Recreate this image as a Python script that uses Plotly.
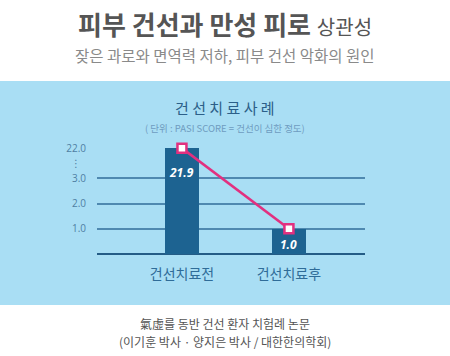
import plotly.graph_objects as go

# ---- data ----
categories = ["건선치료전", "건선치료후"]
pasi_values = [21.9, 1.0]
tick_values = [1.0, 2.0, 3.0, 22.0]
tick_labels = ["1.0", "2.0", "3.0", "22.0"]
value_labels = ["21.9", "1.0"]

# broken axis: linear 0..3, compressed above 3
BREAK = 3.0
UPPER_SCALE = 0.0637


def to_axis(v):
    return v if v <= BREAK else BREAK + (v - BREAK) * UPPER_SCALE


bar_pos = [to_axis(v) for v in pasi_values]
tick_pos = [to_axis(v) for v in tick_values]

W, H = 450, 356
L, R, T, B = 97, 365, 148, 254


def px_x(px):
    return (px - L) / (R - L)


def px_y(py):
    return (B - py) / (B - T)


fig = go.Figure()
fig.add_trace(go.Bar(
    x=categories, y=bar_pos, width=0.318,
    marker=dict(color="#1d6391", line=dict(width=0)),
    hoverinfo="skip",
))
fig.add_trace(go.Scatter(
    x=categories, y=bar_pos, mode="lines+markers",
    line=dict(color="#e2307f", width=2.6),
    marker=dict(symbol="square", size=9, color="white",
                line=dict(color="#e2307f", width=2.5)),
    cliponaxis=False, hoverinfo="skip",
))

annotations = []
# value labels inside bars
shifts = [-14, -5]
for c, p, lab, s in zip(categories, bar_pos, value_labels, shifts):
    annotations.append(dict(
        x=c, y=p, xref="x", yref="y", text=f"<i><b>{lab}</b></i>",
        showarrow=False, yanchor="top", xanchor="center", yshift=s,
        font=dict(family="Open Sans", size=12, color="white")))

CX = 0.5 * (px_x(0) + px_x(450))


def note(text, py, size, color, family="Noto Sans CJK KR", x=None):
    return dict(x=CX if x is None else x, y=px_y(py), xref="paper", yref="paper",
                text=text, showarrow=False, xanchor="center", yanchor="middle",
                font=dict(family=family, size=size, color=color))


annotations += [
    note("⋮", 163, 10, "#4f7fa3", family="DejaVu Sans", x=px_x(76)),
    note("<b>피부 건선과 만성 피로</b> <span style='font-size:20px'>상관성</span>",
         23, 26, "#555555"),
    note("잦은 과로와 면역력 저하, 피부 건선 악화의 원인", 55, 15.5, "#8a8a8a"),
    note("건 선 치 료 사 례", 107, 15, "#2c5f88"),
    note("( 단위 : PASI SCORE = 건선이 심한 정도)", 128, 9.5, "#6f9cc0"),
    note("氣虛를 동반 건선 환자 치험례 논문", 323, 12, "#555555"),
    note("(이기훈 박사 · 양지은 박사 / 대한한의학회)", 341, 12, "#555555"),
]

shapes = [dict(type="rect", xref="paper", yref="paper", layer="below",
               x0=px_x(0), x1=px_x(450), y0=px_y(305), y1=px_y(81),
               fillcolor="#a9def4", line=dict(width=0))]

fig.update_layout(
    width=W, height=H,
    margin=dict(l=L, r=W - R, t=T, b=H - B, pad=0, autoexpand=False),
    paper_bgcolor="white", plot_bgcolor="rgba(0,0,0,0)",
    showlegend=False, bargap=0,
    shapes=shapes, annotations=annotations,
    xaxis=dict(range=[-0.794, 1.711], showgrid=False, zeroline=False,
               showline=False, ticks="", fixedrange=True, ticklabelstandoff=10,
               tickfont=dict(family="Noto Sans CJK KR", size=14, color="#2f6c98")),
    yaxis=dict(range=[0, to_axis(22.0)], tickvals=tick_pos, ticktext=tick_labels,
               showgrid=True, gridcolor="#4f89b0", gridwidth=1.5,
               zeroline=True, zerolinecolor="#245c86", zerolinewidth=2,
               showline=False, ticks="", ticklabelstandoff=10,
               tickfont=dict(family="Open Sans", size=10, color="#4f7fa3"),
               fixedrange=True),
)

fig.write_html("out.html", config={"displayModeBar": False},
               post_script="document.body.style.margin='0';")
